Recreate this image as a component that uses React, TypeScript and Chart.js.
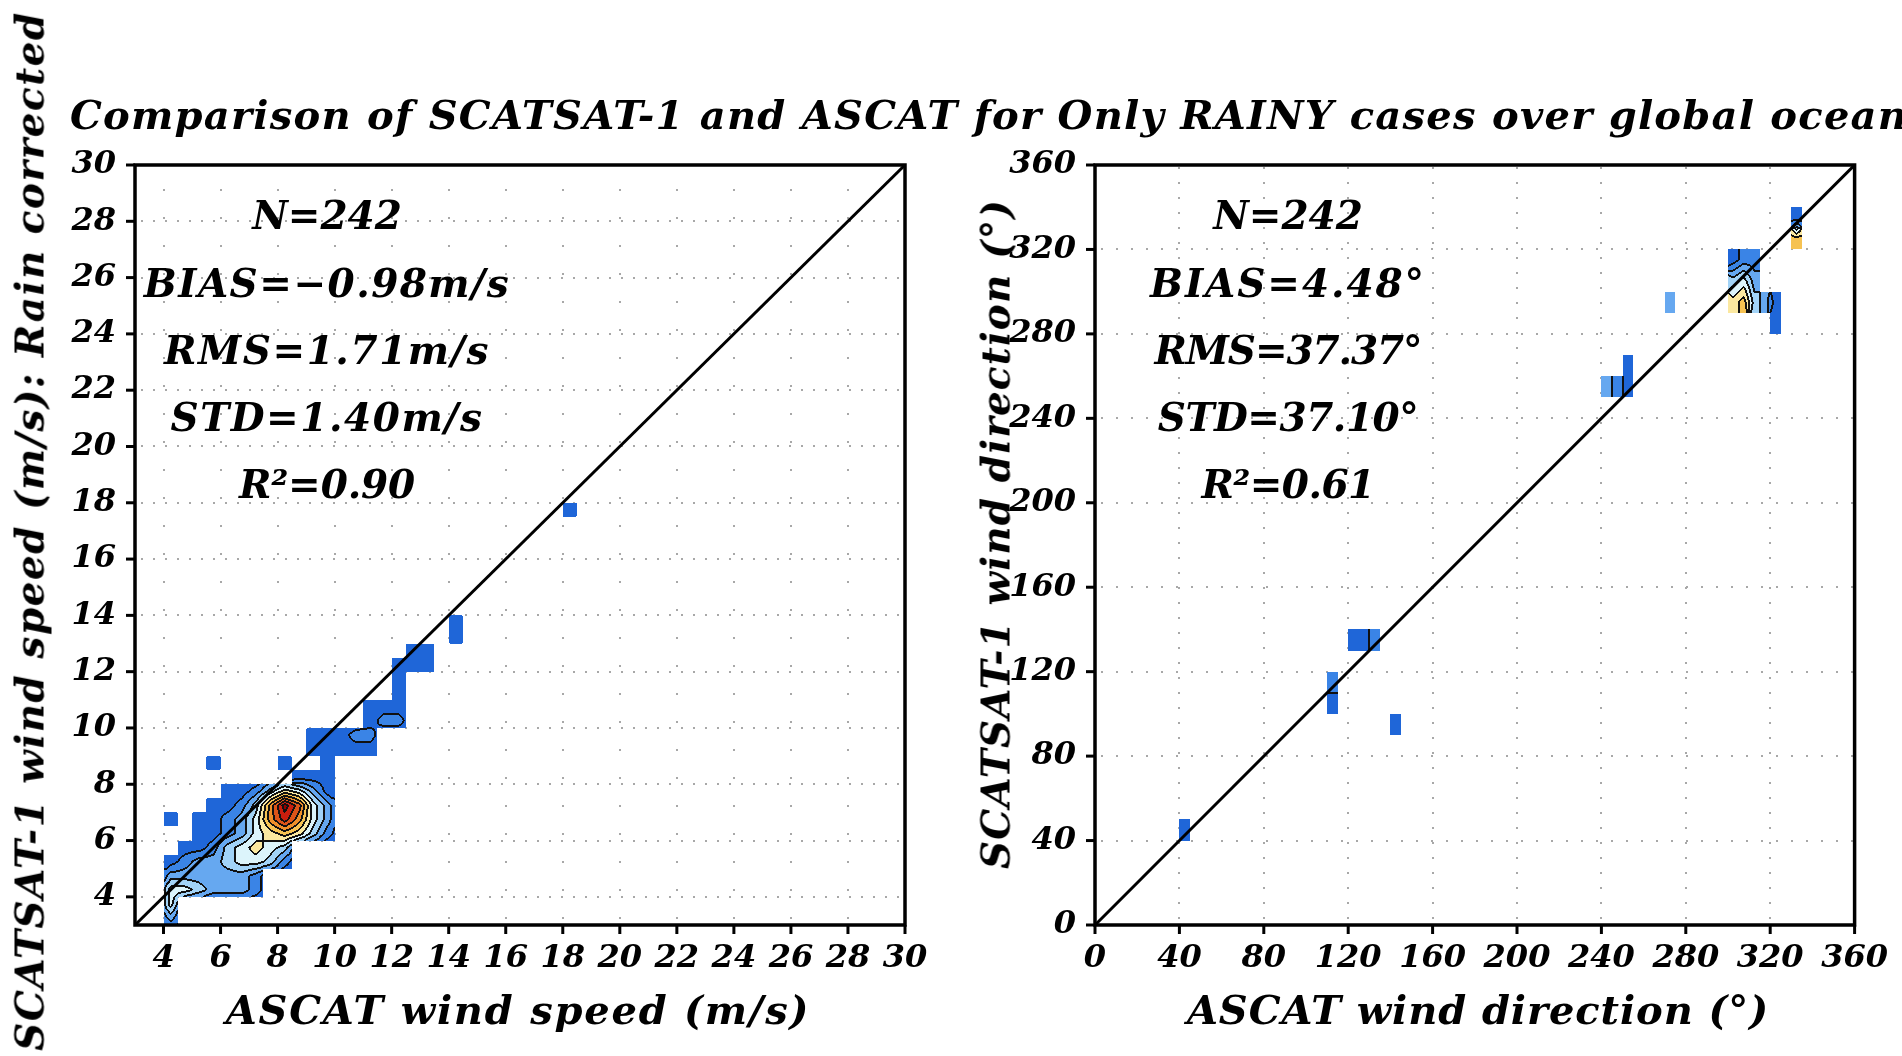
import React, { useEffect, useLayoutEffect, useRef } from "react";
import { Chart, registerables } from "chart.js";

Chart.register(...registerables);

const FONT = "'DejaVu Serif', 'Liberation Serif', serif";

// ---------- axes ----------
const speedRange = [3, 30];
const speedTicks = [4, 6, 8, 10, 12, 14, 16, 18, 20, 22, 24, 26, 28, 30];
const speedGrid = [4, 6, 8, 10, 12, 14, 16, 18, 20, 22, 24, 26, 28];
const dirRange = [0, 360];
const dirTicks = [0, 40, 80, 120, 160, 200, 240, 280, 320, 360];
const dirGrid = [40, 80, 120, 160, 200, 240, 280, 320];

// 1:1 reference lines
const speedDiag = [3, 30];
const dirDiag = [0, 360];

// ---------- density classes (1..11), cells given by lower-left corner ----------
// wind speed: cells 0.5 x 0.5 m/s
const speedCellSize = [0.5, 0.5];
const speedRowY = [3.0, 3.5, 4.0, 4.5, 5.0, 5.5, 6.0, 6.5, 7.0, 7.5, 8.0, 8.5, 9.0, 9.5, 10.0, 10.5, 11.0, 11.5, 12.0, 12.5, 13.0, 13.5, 17.5];
const speedRowX = [
  [4.0],
  [4.0],
  [4.0, 4.5, 5.0, 5.5, 6.0, 6.5, 7.0],
  [4.0, 4.5, 5.0, 5.5, 6.0, 6.5, 7.0],
  [4.0, 4.5, 5.0, 5.5, 6.0, 6.5, 7.0, 7.5, 8.0],
  [4.5, 5.0, 5.5, 6.0, 6.5, 7.0, 7.5, 8.0],
  [5.0, 5.5, 6.0, 6.5, 7.0, 7.5, 8.0, 8.5, 9.0, 9.5],
  [4.0, 5.0, 5.5, 6.0, 6.5, 7.0, 7.5, 8.0, 8.5, 9.0, 9.5],
  [5.5, 6.0, 6.5, 7.0, 7.5, 8.0, 8.5, 9.0, 9.5],
  [6.0, 6.5, 7.0, 7.5, 8.0, 8.5, 9.0, 9.5],
  [8.5, 9.0, 9.5],
  [5.5, 8.0, 9.5],
  [9.0, 9.5, 10.0, 10.5, 11.0],
  [9.0, 9.5, 10.0, 10.5, 11.0],
  [11.0, 11.5, 12.0],
  [11.0, 11.5, 12.0],
  [12.0],
  [12.0],
  [12.0, 12.5, 13.0],
  [12.5, 13.0],
  [14.0],
  [14.0],
  [18.0],
];
const speedRowLevel = [
  [3],
  [5],
  [5, 5, 4, 3, 3, 3, 2],
  [3, 3, 3, 3, 3, 3, 2],
  [1, 2, 3, 3, 4, 5, 5, 4, 2],
  [1, 1, 2, 4, 5, 6, 5, 4],
  [1, 1, 2, 3, 5, 6, 7, 6, 4, 2],
  [1, 1, 1, 2, 3, 5, 8, 10, 8, 5, 3],
  [1, 1, 2, 4, 8, 11, 9, 5, 3],
  [1, 1, 2, 4, 6, 5, 3, 1],
  [1, 1, 1],
  [1, 1, 1],
  [1, 1, 1, 1, 1],
  [1, 1, 1, 2, 2],
  [1, 2, 2],
  [1, 1, 1],
  [1],
  [1],
  [1, 1, 1],
  [1, 1],
  [1],
  [1],
  [1],
];

// wind direction: cells 5 x 10 degrees
const dirCellSize = [5, 10];
const dirRowY = [40, 90, 100, 110, 130, 250, 260, 280, 290, 300, 310, 320, 330];
const dirRowX = [
  [40],
  [140],
  [110],
  [110],
  [120, 125, 130],
  [240, 245, 250],
  [250],
  [320],
  [270, 300, 305, 310, 315, 320],
  [300, 305, 310],
  [300, 305, 310],
  [330],
  [330],
];
const dirRowLevel = [
  [1],
  [1],
  [1],
  [2],
  [1, 1, 2],
  [3, 2, 1],
  [1],
  [1],
  [3, 6, 7, 4, 3, 1],
  [4, 5, 3],
  [1, 2, 2],
  [7],
  [1],
];

const levelColors = [
  "#ffffff",
  "#1f66d8",
  "#3a84e6",
  "#66a8f0",
  "#a2d3f7",
  "#dcf4fb",
  "#fbe8a0",
  "#f6c252",
  "#ee8f2a",
  "#dd5418",
  "#c81e0e",
  "#940000",
];

// ---------- texts ----------
const titleText = "Comparison of SCATSAT-1 and ASCAT for Only RAINY cases over global oceans";
const speedStats = ["N=242", "BIAS=\u22120.98m/s", "RMS=1.71m/s", "STD=1.40m/s", "R\u00b2=0.90"];
const dirStats = ["N=242", "BIAS=4.48\u00b0", "RMS=37.37\u00b0", "STD=37.10\u00b0", "R\u00b2=0.61"];
const speedXTitle = "ASCAT wind speed (m/s)";
const speedYTitle = "SCATSAT-1 wind speed (m/s): Rain corrected";
const dirXTitle = "ASCAT wind direction (\u00b0)";
const dirYTitle = "SCATSAT-1 wind direction (\u00b0)";

type PanelCfg = {
  range: number[];
  ticks: number[];
  grid: number[];
  diag: number[];
  cellSize: number[];
  rowY: number[];
  rowX: number[][];
  rowLevel: number[][];
  dashV: number[];
  dashH: number[];
  padRight: number;
  edgeFactor: number;
  threshold: number;
};

function hexRgb(h: string) {
  return [parseInt(h.slice(1, 3), 16), parseInt(h.slice(3, 5), 16), parseInt(h.slice(5, 7), 16)];
}
const levelRgb = levelColors.map(hexRgb);

function makePanelPlugin(cfg: PanelCfg) {
  return {
    id: "panel",
    beforeDatasetsDraw(chart: any) {
      const { ctx, chartArea: a, scales } = chart;
      const sx = scales.x;
      const sy = scales.y;
      ctx.save();
      ctx.beginPath();
      ctx.rect(a.left, a.top, a.right - a.left, a.bottom - a.top);
      ctx.clip();
      // dotted grid
      ctx.strokeStyle = "#a8a8a8";
      ctx.lineWidth = 2;
      ctx.lineCap = "butt";
      cfg.grid.forEach((v) => {
        const px = Math.round(sx.getPixelForValue(v));
        ctx.setLineDash(cfg.dashV);
        ctx.beginPath();
        ctx.moveTo(px, a.bottom - 6);
        ctx.lineTo(px, a.top);
        ctx.stroke();
        const py = Math.round(sy.getPixelForValue(v));
        ctx.setLineDash(cfg.dashH);
        ctx.beginPath();
        ctx.moveTo(a.left + 6, py);
        ctx.lineTo(a.right, py);
        ctx.stroke();
      });
      ctx.setLineDash([]);

      // shaded contours of the binned density
      const [w, h] = cfg.cellSize;
      const K = (i: number, j: number) => i * 10000 + j;
      const map = new Map<number, number>();
      cfg.rowY.forEach((y, r) => {
        cfg.rowX[r].forEach((x, i) => {
          map.set(K(Math.round(x / w), Math.round(y / h)), cfg.rowLevel[r][i]);
        });
      });
      const aw = Math.round(a.right - a.left);
      const ah = Math.round(a.bottom - a.top);
      const vxs = new Float64Array(aw);
      for (let px = 0; px < aw; px++) vxs[px] = sx.getValueForPixel(a.left + px + 0.5);
      const cls = new Int8Array(aw * ah);
      for (let py = 0; py < ah; py++) {
        const vy = sy.getValueForPixel(a.top + py + 0.5);
        const cj = Math.floor(vy / h);
        const v = vy / h - 0.5;
        const j0 = Math.floor(v);
        const fv = v - j0;
        for (let px = 0; px < aw; px++) {
          const vx = vxs[px];
          const ci = Math.floor(vx / w);
          const own = map.get(K(ci, cj));
          if (own === undefined) continue;
          const fill = own * cfg.edgeFactor;
          const g = (i: number, j: number) => {
            const q = map.get(K(i, j));
            return q === undefined ? fill : q;
          };
          const u = vx / w - 0.5;
          const i0 = Math.floor(u);
          const fu = u - i0;
          const val =
            g(i0, j0) * (1 - fu) * (1 - fv) +
            g(i0 + 1, j0) * fu * (1 - fv) +
            g(i0, j0 + 1) * (1 - fu) * fv +
            g(i0 + 1, j0 + 1) * fu * fv;
          if (val < cfg.threshold) continue;
          cls[py * aw + px] = Math.max(1, Math.min(11, Math.round(val)));
        }
      }
      const off = document.createElement("canvas");
      off.width = aw;
      off.height = ah;
      const octx = off.getContext("2d") as CanvasRenderingContext2D;
      const img = octx.createImageData(aw, ah);
      const d = img.data;
      for (let py = 0; py < ah; py++) {
        for (let px = 0; px < aw; px++) {
          const idx = py * aw + px;
          const c = cls[idx];
          if (c < 1) continue;
          let edge = false;
          const nb = [
            px + 1 < aw ? cls[idx + 1] : 0,
            px > 0 ? cls[idx - 1] : 0,
            py + 1 < ah ? cls[idx + aw] : 0,
            py > 0 ? cls[idx - aw] : 0,
          ];
          for (const n of nb) if (n >= 1 && n !== c) edge = true;
          const rgb = edge ? [17, 17, 17] : levelRgb[c];
          d[idx * 4] = rgb[0];
          d[idx * 4 + 1] = rgb[1];
          d[idx * 4 + 2] = rgb[2];
          d[idx * 4 + 3] = 255;
        }
      }
      octx.putImageData(img, 0, 0);
      ctx.drawImage(off, a.left, a.top);
      ctx.restore();
    },
    afterDraw(chart: any) {
      const { ctx, chartArea: a, scales } = chart;
      ctx.save();
      ctx.strokeStyle = "#000";
      ctx.lineWidth = 3.5;
      ctx.strokeRect(a.left, a.top, a.right - a.left, a.bottom - a.top);
      ctx.lineWidth = 3;
      cfg.ticks.forEach((v) => {
        const px = scales.x.getPixelForValue(v);
        ctx.beginPath();
        ctx.moveTo(px, a.bottom);
        ctx.lineTo(px, a.bottom + 9);
        ctx.stroke();
        const py = scales.y.getPixelForValue(v);
        ctx.beginPath();
        ctx.moveTo(a.left - 9, py);
        ctx.lineTo(a.left, py);
        ctx.stroke();
      });
      ctx.restore();
    },
  };
}

function buildConfig(cfg: PanelCfg): any {
  const tickFont = { family: FONT, size: 32, weight: "bold" as const, style: "italic" as const };
  const setTicks = (s: any) => {
    s.ticks = cfg.ticks.map((v) => ({ value: v }));
  };
  return {
    type: "scatter",
    data: {
      datasets: [
        {
          data: cfg.diag.map((v) => ({ x: v, y: v })),
          showLine: true,
          borderColor: "#000",
          borderWidth: 3,
          pointRadius: 0,
          fill: false,
        },
      ],
    },
    options: {
      animation: false,
      responsive: false,
      maintainAspectRatio: false,
      events: [],
      layout: { padding: { left: 0, top: 165, right: cfg.padRight, bottom: 0 } },
      plugins: { legend: { display: false }, tooltip: { enabled: false }, title: { display: false } },
      scales: {
        x: {
          type: "linear",
          min: cfg.range[0],
          max: cfg.range[1],
          afterBuildTicks: setTicks,
          afterFit: (s: any) => {
            s.height = 131;
          },
          grid: { display: false, drawTicks: false },
          border: { display: false },
          ticks: { color: "#000", font: tickFont, padding: 14, autoSkip: false, maxRotation: 0 },
        },
        y: {
          type: "linear",
          min: cfg.range[0],
          max: cfg.range[1],
          afterBuildTicks: setTicks,
          afterFit: (s: any) => {
            s.width = 135;
          },
          grid: { display: false, drawTicks: false },
          border: { display: false },
          ticks: { color: "#000", font: tickFont, padding: 19, autoSkip: false },
        },
      },
    },
    plugins: [makePanelPlugin(cfg)],
  };
}

function Txt(props: {
  x: number;
  y: number;
  size: number;
  text: string;
  w: number;
  rotate?: boolean;
  left?: boolean;
  stretch?: number;
}) {
  const { x, y, size, text, w, rotate, left, stretch = 1 } = props;
  const ref = useRef<HTMLDivElement>(null);
  useLayoutEffect(() => {
    const el = ref.current;
    if (!el) return;
    el.style.letterSpacing = "0px";
    const nat = el.offsetWidth;
    el.style.letterSpacing = (w - nat) / text.length + "px";
  }, [text, w]);
  const tr = left
    ? `translate(0,-50%) scaleY(${stretch})`
    : rotate
    ? `translate(-50%,-50%) rotate(-90deg) scaleY(${stretch})`
    : `translate(-50%,-50%) scaleY(${stretch})`;
  return (
    <div
      ref={ref}
      style={{
        position: "absolute",
        left: x,
        top: y,
        transform: tr,
        transformOrigin: left ? "0 50%" : "50% 50%",
        fontFamily: FONT,
        fontWeight: "bold",
        fontStyle: "italic",
        fontSize: size,
        lineHeight: `${size}px`,
        whiteSpace: "nowrap",
        color: "#000",
      }}
    >
      {text}
    </div>
  );
}

const statY = [215, 283, 350, 417, 484];
const speedStatW = [150, 366, 326, 313, 176];
const dirStatW = [150, 276, 267, 260, 173];

export default function App() {
  const leftRef = useRef<HTMLCanvasElement>(null);
  const rightRef = useRef<HTMLCanvasElement>(null);

  useEffect(() => {
    const c1 = new Chart(
      leftRef.current as HTMLCanvasElement,
      buildConfig({
        range: speedRange,
        ticks: speedTicks,
        grid: speedGrid,
        diag: speedDiag,
        cellSize: speedCellSize,
        rowY: speedRowY,
        rowX: speedRowX,
        rowLevel: speedRowLevel,
        dashV: [2, 26],
        dashH: [2, 10],
        padRight: 55,
        edgeFactor: 0.3,
        threshold: 0.5,
      })
    );
    const c2 = new Chart(
      rightRef.current as HTMLCanvasElement,
      buildConfig({
        range: dirRange,
        ticks: dirTicks,
        grid: dirGrid,
        diag: dirDiag,
        cellSize: dirCellSize,
        rowY: dirRowY,
        rowX: dirRowX,
        rowLevel: dirRowLevel,
        dashV: [2, 13],
        dashH: [2, 13],
        padRight: 40,
        edgeFactor: 1,
        threshold: 0.5,
      })
    );
    return () => {
      c1.destroy();
      c2.destroy();
    };
  }, []);

  return (
    <div
      style={{
        position: "absolute",
        left: 0,
        top: 0,
        width: 1902,
        height: 1056,
        background: "#fff",
        overflow: "hidden",
      }}
    >
      <canvas ref={leftRef} width={960} height={1056} style={{ position: "absolute", left: 0, top: 0 }} />
      <canvas ref={rightRef} width={942} height={1056} style={{ position: "absolute", left: 960, top: 0 }} />
      <Txt x={70} y={115} size={40} w={1862} text={titleText} left />
      {speedStats.map((s, i) => (
        <Txt key={"s" + i} x={327} y={statY[i]} size={39} w={speedStatW[i]} text={s} />
      ))}
      {dirStats.map((s, i) => (
        <Txt key={"d" + i} x={1288} y={statY[i]} size={39} w={dirStatW[i]} text={s} />
      ))}
      <Txt x={518} y={1010} size={40} w={585} text={speedXTitle} />
      <Txt x={1478} y={1010} size={40} w={582} text={dirXTitle} />
      <Txt x={30} y={531} size={39} w={1040} text={speedYTitle} rotate />
      <Txt x={996} y={534} size={39} w={670} text={dirYTitle} rotate />
    </div>
  );
}
